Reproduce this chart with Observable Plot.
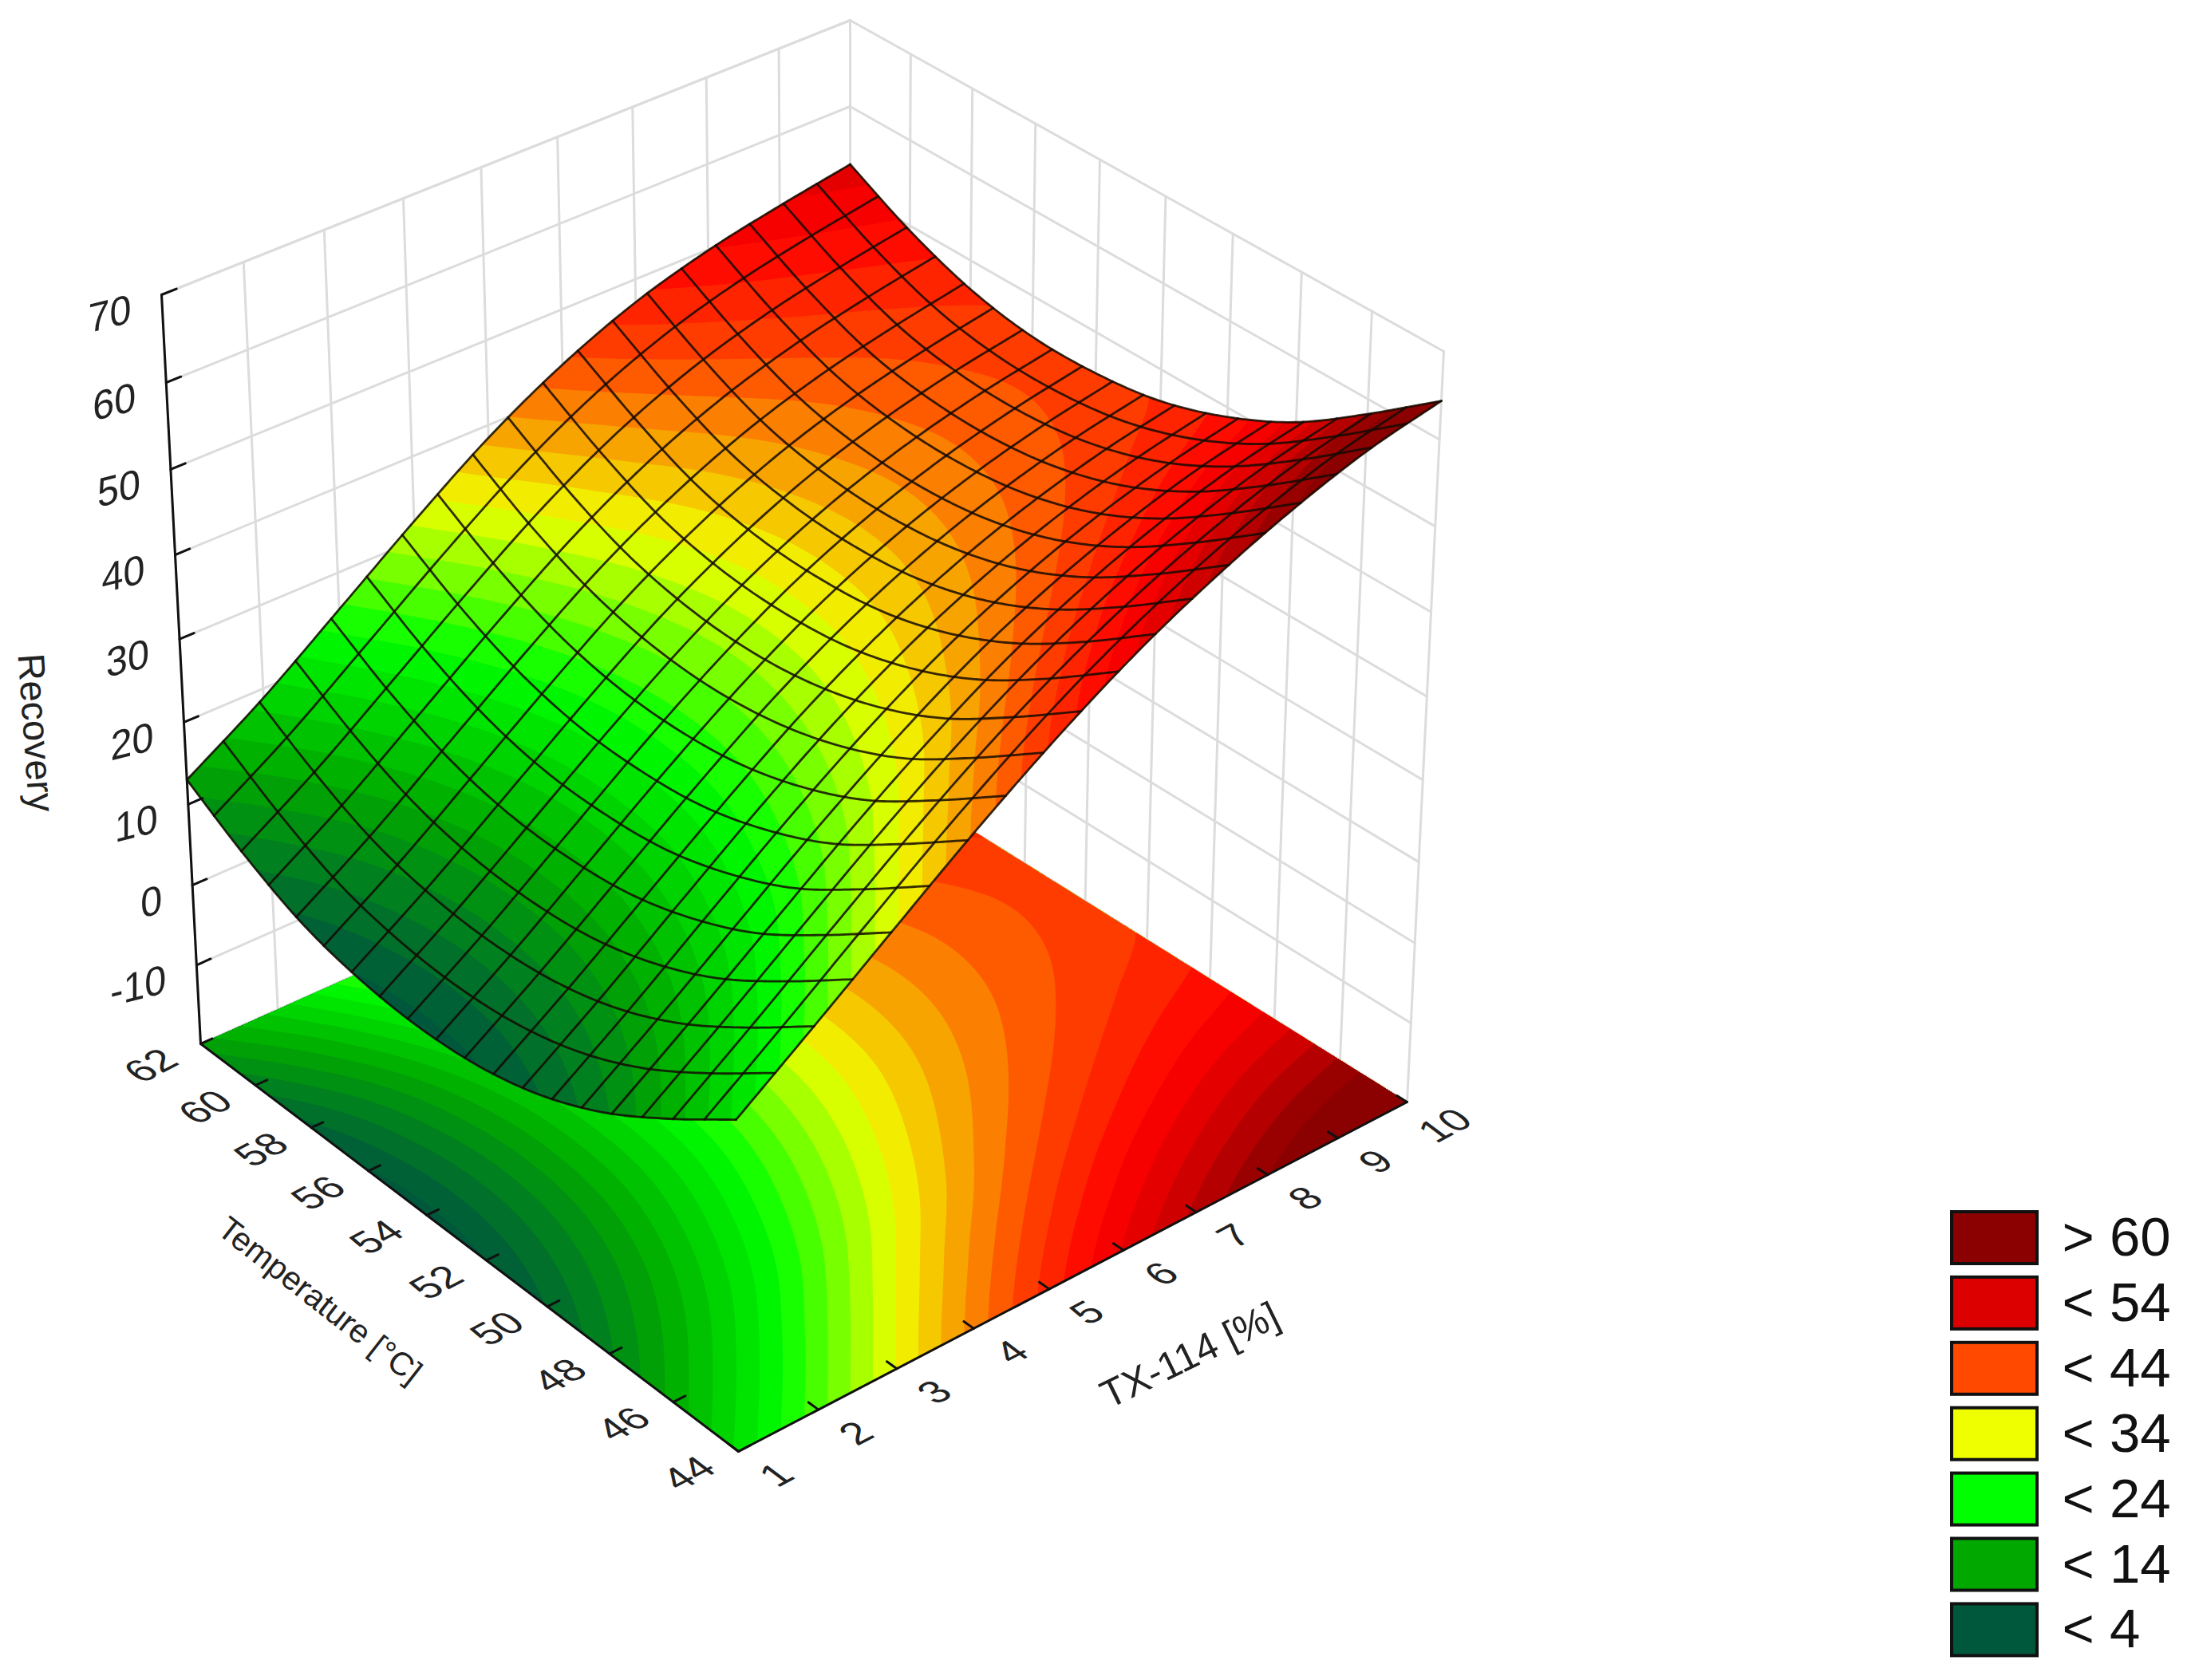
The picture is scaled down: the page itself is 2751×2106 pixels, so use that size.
<!DOCTYPE html>
<html><head><meta charset="utf-8">
<style>html,body{margin:0;padding:0;background:#fff;overflow:hidden}svg{display:block}</style>
<script src="https://cdn.jsdelivr.net/npm/d3@7"></script>
<script src="https://cdn.jsdelivr.net/npm/@observablehq/plot@0.6"></script>
</head><body><div id="chart"></div>
<script>
// ---------- values ----------
const txTicks = [1,2,3,4,5,6,7,8,9,10];
const tTicks = [44,46,48,50,52,54,56,58,60,62];
const zTicks = [-10,0,10,20,30,40,50,60,70];
const zRange = [-20,70];
// Recovery at each TX-114 tick (columns), one row per Temperature tick
const recoveryT44 = [20.4,27.2,34.1,40.8,46.9,52.2,56.5,60,62.7,64.4];
const recoveryT46 = [14.7,21.4,28.3,35,41.1,46.3,50.6,54,56.6,58.3];
const recoveryT48 = [9.7,16.3,23.1,29.8,35.9,41.2,45.4,48.7,51.2,52.8];
const recoveryT50 = [6.1,12.6,19.5,26.2,32.3,37.5,41.6,44.8,47.2,48.9];
const recoveryT52 = [4,10.4,17.2,23.9,30.1,35.2,39.3,42.4,44.7,46.3];
const recoveryT54 = [3.3,9.6,16.4,23.1,29.2,34.4,38.4,41.4,43.6,45.2];
const recoveryT56 = [3.8,10,16.7,23.4,29.6,34.7,38.7,41.6,43.7,45.2];
const recoveryT58 = [5.5,11.6,18.4,25.1,31.3,36.3,40.2,43,45,46.6];
const recoveryT60 = [8.8,14.8,21.5,28.2,34.4,39.5,43.3,46,47.9,49.4];
const recoveryT62 = [13,18.9,25.6,32.3,38.5,43.5,47.3,49.9,51.7,53.2];
const recovery = [recoveryT44,recoveryT46,recoveryT48,recoveryT50,recoveryT52,recoveryT54,recoveryT56,recoveryT58,recoveryT60,recoveryT62];
const legendLabels = ["> 60","< 54","< 44","< 34","< 24","< 14","< 4"];
const legendValues = [60,54,44,34,24,14,4];
const colorDomain = [4,14,24,34,44,50,54,60];
const colorRange = ["#00583c","#00a800","#00ff00","#f0ff00","#ff4800","#ff0000","#dc0000","#8b0000"];

// ---------- camera: box corners on the page ----------
function quad(p00,p10,p11,p01){
  const dx1=p10[0]-p11[0],dx2=p01[0]-p11[0],sx=p00[0]-p10[0]+p11[0]-p01[0];
  const dy1=p10[1]-p11[1],dy2=p01[1]-p11[1],sy=p00[1]-p10[1]+p11[1]-p01[1];
  const den=dx1*dy2-dx2*dy1, g=(sx*dy2-dx2*sy)/den, h=(dx1*sy-sx*dy1)/den;
  const a=p10[0]-p00[0]+g*p10[0], b=p01[0]-p00[0]+h*p01[0];
  const c=p10[1]-p00[1]+g*p10[1], d=p01[1]-p00[1]+h*p01[1];
  return (u,v)=>{const q=1+g*u+h*v;return [(a*u+b*v+p00[0])/q,(c*u+d*v+p00[1])/q];};
}
const floorPlane = quad([925,1819],[1763,1381],[1065,945],[251,1308]);
const topPlane = quad([918,860],[1809,440],[1065,25],[202,369]);
const persp = 0.06;
function project(tx,t,z){
  const u=(tx-1)/9, v=(t-44)/18, w=(z-zRange[0])/(zRange[1]-zRange[0]);
  const f=w*(1-persp)/(1-persp*w);
  const a=floorPlane(u,v), b=topPlane(u,v);
  return [a[0]+(b[0]-a[0])*f, a[1]+(b[1]-a[1])*f];
}
const px=(tx,t,z)=>project(tx,t,z)[0], py=(tx,t,z)=>project(tx,t,z)[1];

// ---------- resampling of the table for drawing ----------
function cr(p0,p1,p2,p3,s){return 0.5*(2*p1+(p2-p0)*s+(2*p0-5*p1+4*p2-p3)*s*s+(3*p1-p0-3*p2+p3)*s*s*s);}
function at(arr,a){const n=arr.length,i=Math.min(Math.floor(a),n-2),s=a-i;
  const p1=arr[i],p2=arr[i+1],p0=i>0?arr[i-1]:2*p1-p2,p3=i<n-2?arr[i+2]:2*p2-p1;return cr(p0,p1,p2,p3,s);}
function recoveryAt(tx,t){const a=tx-1,b=(t-44)/2;return at(recovery.map(r=>at(r,a)),b);}

// ---------- filled bands ----------
const n=181;
const grid=new Float64Array(n*n);
const gTx=i=>1+9*i/(n-1), gT=j=>44+18*j/(n-1);
for(let j=0;j<n;j++)for(let i=0;i<n;i++)grid[j*n+i]=recoveryAt(gTx(i),gT(j));
const levels=d3.range(-4,68,2);
const contours=d3.contours().size([n,n]).thresholds(levels)(grid);
const clampG=g=>Math.max(0,Math.min(n-1,g-0.5));
function bands(zOf){
  return contours.map(c=>({type:"MultiPolygon",value:c.value+1,coordinates:c.coordinates.map(poly=>poly.map(ring=>ring.map(([gx,gy])=>{
    const tx=gTx(clampG(gx)),t=gT(clampG(gy));return project(tx,t,zOf(tx,t));})))}));
}
const floorBands=bands(()=>zRange[0]);
const surfaceBands=bands(recoveryAt);

// ---------- mesh ----------
const cells=19, sub=8, mesh=[];
for(let k=0;k<=cells;k++)for(let s=0;s<=cells*sub;s++){
  const a=1+9*k/cells,b=1+9*s/(cells*sub),t1=44+18*k/cells,t2=44+18*s/(cells*sub);
  mesh.push({id:"t"+k,p:project(b,t1,recoveryAt(b,t1))});
  mesh.push({id:"x"+k,p:project(a,t2,recoveryAt(a,t2))});
}
const meshSorted=d3.groups(mesh,d=>d.id).flatMap(g=>g[1]);

// ---------- walls ----------
const wall=[];
const seg=(id,a,b)=>{wall.push({id,p:a},{id,p:b});};
const [t0,t1]=[44,62],[x0,x1]=[1,10],[z0,z1]=zRange;
txTicks.forEach(v=>{seg("wx"+v,project(v,t1,z0),project(v,t1,z1));});
tTicks.forEach(v=>{seg("wt"+v,project(x1,v,z0),project(x1,v,z1));});
[z0,...zTicks].forEach(v=>{seg("zl"+v,project(x0,t1,v),project(x1,t1,v));seg("zr"+v,project(x1,t1,v),project(x1,t0,v));});
seg("ztop",project(x0,t1,z1),project(x1,t1,z1));
const axes=[];
const ax=(id,a,b)=>{axes.push({id,p:a},{id,p:b});};
ax("zaxis",project(x0,t1,z0),project(x0,t1,z1));
ax("txaxis",project(x0,t0,z0),project(x1,t0,z0));
ax("taxis",project(x0,t0,z0),project(x0,t1,z0));
zTicks.concat([z1]).forEach(v=>ax("zt"+v,project(x0,t1,v),project(x0+0.18,t1,v)));
txTicks.forEach(v=>ax("xt"+v,project(v,t0,z0),project(v,t0+0.3,z0)));
tTicks.forEach(v=>ax("tt"+v,project(x0,v,z0),project(x0+0.15,v,z0)));

const font="'Liberation Sans',Arial,sans-serif";
const legendX=[2446,2553], legendTop=1519, legendStep=81.9, legendH=65;
const linePos={x:d=>d.p[0],y:d=>d.p[1],z:d=>d.id};

const chart=Plot.plot({
  width:2751,height:2106,margin:0,
  x:{type:"identity",axis:null},y:{type:"identity",axis:null},
  color:{type:"linear",domain:colorDomain,range:colorRange,interpolate:"rgb",clamp:true},
  style:{background:"#fff",fontFamily:font},
  marks:[
    Plot.line(wall,{...linePos,stroke:"#dcdcdc",strokeWidth:3}),
    Plot.geo(floorBands,{fill:d=>d.value}),
    Plot.geo(surfaceBands,{fill:d=>d.value}),
    Plot.line(meshSorted,{...linePos,stroke:"#140a00",strokeWidth:2.8,strokeOpacity:0.85}),
    Plot.line(axes,{...linePos,stroke:"#111",strokeWidth:3}),
    Plot.text(zTicks,{className:"zlab",x:d=>px(x0,t1,d)-38,y:d=>py(x0,t1,d)+18,text:d=>String(d),textAnchor:"end",rotate:-14,fontSize:50,fill:"#222"}),
    Plot.text(tTicks,{className:"flab",x:d=>px(x0,d,z0)-62,y:d=>py(x0,d,z0)+28,text:d=>String(d),rotate:-28,fontSize:50,fill:"#222"}),
    Plot.text(txTicks,{className:"flab",x:d=>px(d,t0,z0)+48,y:d=>py(d,t0,z0)+30,text:d=>String(d),rotate:-28,fontSize:50,fill:"#222"}),
    Plot.text(["Temperature [°C]"],{x:()=>400,y:()=>1630,text:d=>d,rotate:38,fontSize:41,fill:"#222"}),
    Plot.text(["TX-114 [%]"],{x:()=>1491,y:()=>1699,text:d=>d,rotate:-26,fontSize:49,fill:"#222"}),
    Plot.text(["Recovery"],{x:()=>44,y:()=>918,text:d=>d,rotate:86,fontSize:47,fill:"#222"}),
    Plot.rect(legendValues,{x1:()=>legendX[0],x2:()=>legendX[1],y1:(d,i)=>legendTop+i*legendStep,y2:(d,i)=>legendTop+i*legendStep+legendH,fill:d=>d,stroke:"#111",strokeWidth:4}),
    Plot.text(legendLabels,{x:()=>2584,y:(d,i)=>legendTop+i*legendStep+legendH/2,text:d=>d,textAnchor:"start",fontSize:69,fill:"#111"})
  ]
});
document.getElementById("chart").append(chart);
d3.selectAll(".zlab text").attr("transform",function(){return this.getAttribute("transform")+" skewX(-14)";});
d3.selectAll(".flab text").attr("transform",function(){return this.getAttribute("transform")+" skewX(25) scale(1,0.9)";});
</script></body></html>
